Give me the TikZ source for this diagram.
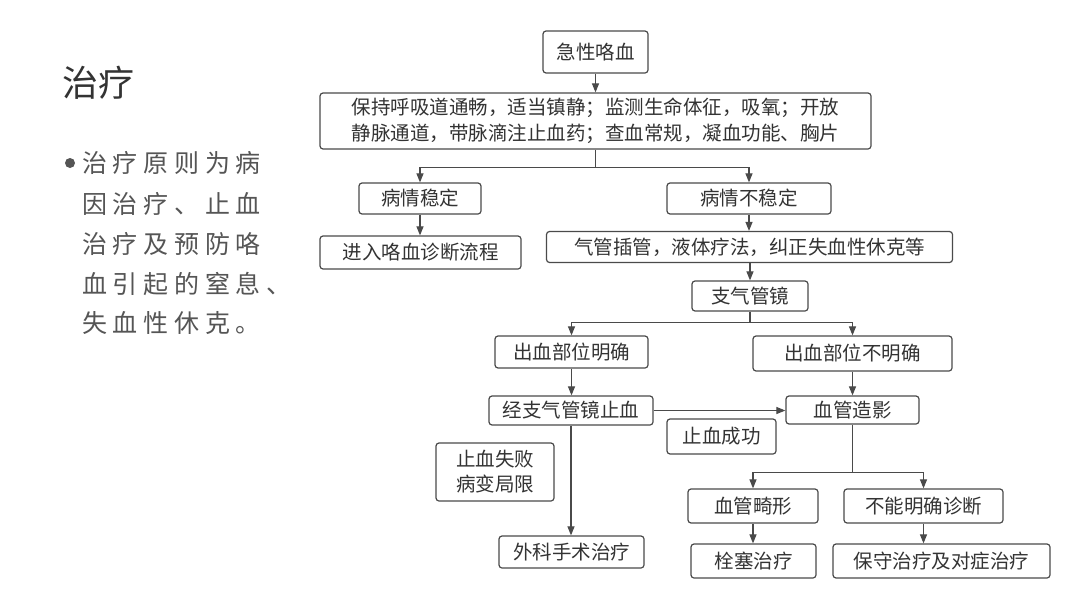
\documentclass[tikz,border=0pt]{standalone}
\usepackage{fontspec}
\setmainfont{Noto Sans CJK SC}
\usetikzlibrary{arrows.meta,calc}
\definecolor{boxc}{HTML}{4A4A4A}
\definecolor{txt}{HTML}{333333}
\definecolor{body}{HTML}{555555}
\tikzset{
  box/.style={draw=boxc, rounded corners=3pt, line width=1.2pt, inner sep=0pt,
    align=center, text=txt, font=\fontsize{19.5}{26}\selectfont},
  arr/.style={draw=boxc, line width=1.1pt, -{Triangle[length=9pt,width=7pt]}},
  ln/.style={draw=boxc, line width=1.1pt},
  bodytext/.style={anchor=west, inner sep=0pt, text=body,
    font=\fontsize{25}{30}\selectfont\addfontfeature{LetterSpace=23}},
}
\begin{document}
\begin{tikzpicture}[x=1pt,y=-1pt]
\useasboundingbox (0,0) rectangle (1080,608);
\fill[white] (0,0) rectangle (1080,608);
% left text
\node[anchor=west, inner sep=0pt, text=txt, font=\fontsize{36}{42}\selectfont] (title) at (62,83) {治疗};
\fill[body] (70,163) circle (5);
\node[bodytext] (l1) at (82,163) {治疗原则为病};
\node[bodytext] (l2) at (82,204) {因治疗、止血};
\node[bodytext] (l3) at (82,244) {治疗及预防咯};
\node[bodytext] (l4) at (82,284) {血引起的窒息、};
\node[bodytext] (l5) at (82,323) {失血性休克。};
% boxes
\node[box, minimum width=105, minimum height=42] (a) at (595.5,52) {急性咯血};
\node[box, minimum width=551, minimum height=56] (b) at (595.5,121) {保持呼吸道通畅，适当镇静；监测生命体征，吸氧；开放\\静脉通道，带脉滴注止血药；查血常规，凝血功能、胸片};
\node[box, minimum width=122, minimum height=31] (c) at (420,198.5) {病情稳定};
\node[box, minimum width=164, minimum height=31] (d) at (749,198.5) {病情不稳定};
\node[box, minimum width=201, minimum height=33] (e) at (420.5,252.5) {进入咯血诊断流程};
\node[box, minimum width=406, minimum height=31] (f) at (749.5,247) {气管插管，液体疗法，纠正失血性休克等};
\node[box, minimum width=116, minimum height=30] (g) at (750,296) {支气管镜};
\node[box, minimum width=153, minimum height=32] (h) at (571.5,352) {出血部位明确};
\node[box, minimum width=199, minimum height=35] (i) at (852.5,353.5) {出血部位不明确};
\node[box, minimum width=164, minimum height=29] (j) at (571,410.5) {经支气管镜止血};
\node[box, minimum width=133, minimum height=28] (k) at (852.5,410) {血管造影};
\node[box, minimum width=109, minimum height=35] (l) at (721.5,436.5) {止血成功};
\node[box, minimum width=118, minimum height=58, font=\fontsize{19.5}{25}\selectfont] (m) at (495,472) {止血失败\\病变局限};
\node[box, minimum width=145, minimum height=32] (n) at (571.5,552) {外科手术治疗};
\node[box, minimum width=130, minimum height=34] (o) at (753,506) {血管畸形};
\node[box, minimum width=159, minimum height=34] (p) at (923.5,506) {不能明确诊断};
\node[box, minimum width=125, minimum height=34] (q) at (753.5,561) {栓塞治疗};
\node[box, minimum width=217, minimum height=34] (r) at (941.5,561) {保守治疗及对症治疗};
% connectors
\draw[arr] (a.south) -- (b.north);
\coordinate (b1) at ($(b.south)+(0,18)$);
\draw[ln] (b.south) -- (b1);
\draw[arr] (b1) -| (c.north);
\draw[arr] (b1) -| (d.north);
\draw[arr] (c.south) -- (c.south |- e.north);
\draw[arr] (d.south) -- (d.south |- f.north);
\draw[arr] (f.south -| g.north) -- (g.north);
\coordinate (g1) at ($(g.south)+(0,11)$);
\draw[ln] (g.south) -- (g1);
\draw[arr] (g1) -| (h.north);
\draw[arr] (g1) -| (i.north);
\draw[arr] (h.south) -- (h.south |- j.north);
\draw[arr] (i.south) -- (i.south |- k.north);
\draw[arr] (j.east) -- (j.east -| k.west);
\draw[arr] (j.south) -- (j.south |- n.north);
\coordinate (k1) at ($(k.south)+(0,48)$);
\draw[ln] (k.south) -- (k1);
\draw[arr] (k1) -| (o.north);
\draw[arr] (k1) -| (p.north);
\draw[arr] (o.south) -- (o.south |- q.north);
\draw[arr] (p.south) -- (p.south |- r.north);
\end{tikzpicture}
\end{document}
